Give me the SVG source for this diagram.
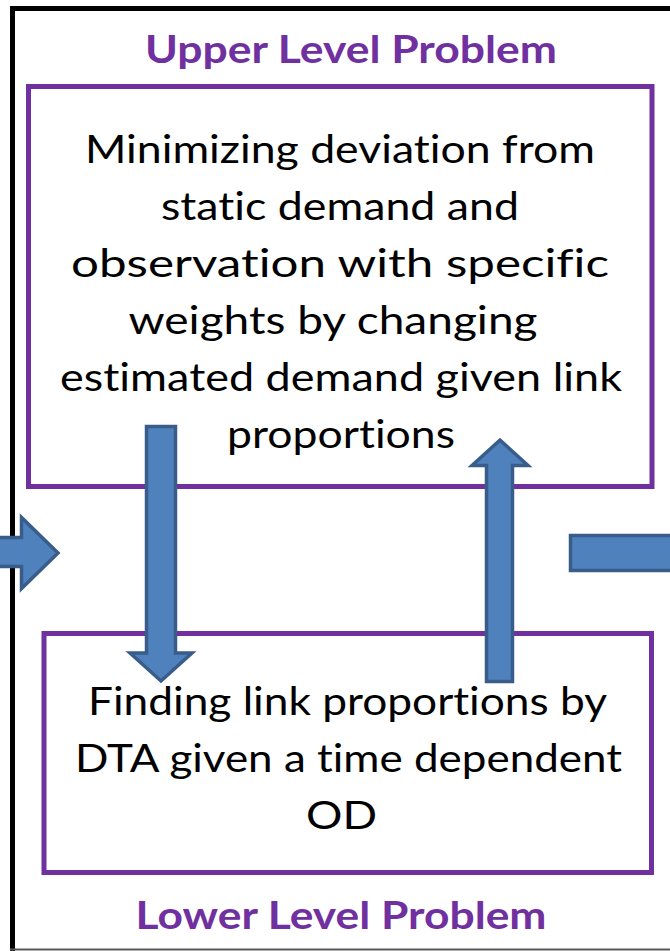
<svg xmlns="http://www.w3.org/2000/svg" width="670" height="951" viewBox="0 0 670 951">
  <style>
    text { font-variant-ligatures: none; font-feature-settings: "liga" 0, "clig" 0, "dlig" 0; }
    .box { fill: #ffffff; stroke: #7030A0; stroke-width: 5; }
    .title { font-family: Lato, "Liberation Sans", sans-serif; font-weight: bold; font-size: 38px; fill: #7030A0; text-anchor: middle; }
    .body { font-family: Lato, "Liberation Sans", sans-serif; font-size: 39px; fill: #000000; text-anchor: middle; }
    .arrow { fill: #4F81BD; stroke: #385D8A; stroke-width: 3.5; stroke-linejoin: miter; }
  </style>
  <rect x="0" y="0" width="670" height="951" fill="#ffffff"/>

  <g id="frame">
    <path d="M12.5 951 V8.5 H670" fill="none" stroke="#000000" stroke-width="5"/>
    <line x1="10" y1="949.5" x2="670" y2="949.5" stroke="#595959" stroke-width="2"/>
  </g>

  <g id="upper-level">
    <text class="title" x="351" y="63" textLength="412" lengthAdjust="spacingAndGlyphs">Upper Level Problem</text>
    <rect class="box" x="28.5" y="86.5" width="623.5" height="400"/>
    <text class="body" x="340" y="163" textLength="510" lengthAdjust="spacingAndGlyphs">Minimizing deviation from</text>
    <text class="body" x="340" y="220" textLength="358" lengthAdjust="spacingAndGlyphs">static demand and</text>
    <text class="body" x="340" y="277" textLength="538" lengthAdjust="spacingAndGlyphs">observation with specific</text>
    <text class="body" x="333" y="334" textLength="409" lengthAdjust="spacingAndGlyphs">weights by changing</text>
    <text class="body" x="341" y="391" textLength="562" lengthAdjust="spacingAndGlyphs">estimated demand given link</text>
    <text class="body" x="341" y="448" textLength="228" lengthAdjust="spacingAndGlyphs">proportions</text>
  </g>

  <g id="lower-level">
    <rect class="box" x="44" y="633.5" width="607.5" height="239"/>
    <text class="body" x="347.5" y="715" textLength="519" lengthAdjust="spacingAndGlyphs">Finding link proportions by</text>
    <text class="body" x="348.5" y="772" textLength="547" lengthAdjust="spacingAndGlyphs">DTA given a time dependent</text>
    <text class="body" x="341.5" y="829" textLength="71" lengthAdjust="spacingAndGlyphs">OD</text>
    <text class="title" x="341" y="929" textLength="411" lengthAdjust="spacingAndGlyphs">Lower Level Problem</text>
  </g>

  <g id="connectors">
    <polygon id="arrow-in" class="arrow" points="-5,537.5 21.5,537.5 21.5,517.5 58,553 21.5,588.5 21.5,566.5 -5,566.5"/>
    <polygon id="arrow-down" class="arrow" points="146.5,426.5 175.5,426.5 175.5,653 192,653 161,681 130,653 146.5,653"/>
    <polygon id="arrow-up" class="arrow" points="486.5,681.5 512.5,681.5 512.5,465.5 528,465.5 500,440 472,465.5 486.5,465.5"/>
    <polygon id="arrow-out" class="arrow" points="570.5,535.5 675,535.5 675,570.5 570.5,570.5"/>
  </g>
</svg>
